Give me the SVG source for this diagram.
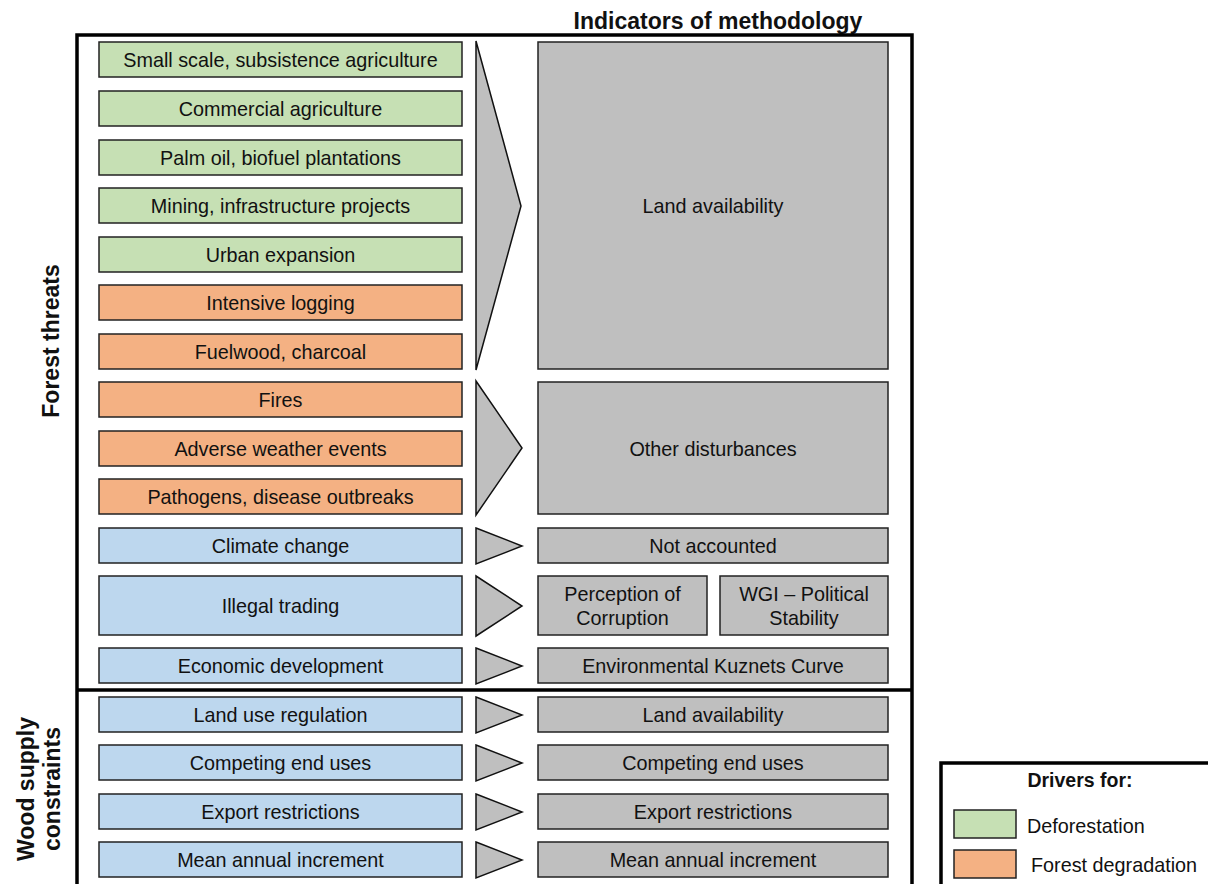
<svg xmlns="http://www.w3.org/2000/svg" width="1208" height="884" viewBox="0 0 1208 884">
<style>
text{font-family:"Liberation Sans",Arial,sans-serif;font-size:19.8px;fill:#111;text-anchor:middle;dominant-baseline:central}
.b{font-weight:bold;font-size:23px}
.g{fill:#c6e0b4;stroke:#222;stroke-width:1.5}
.o{fill:#f4b183;stroke:#222;stroke-width:1.5}
.u{fill:#bdd7ee;stroke:#222;stroke-width:1.5}
.y{fill:#bfbfbf;stroke:#222;stroke-width:1.5}
.t{fill:#bfbfbf;stroke:#111;stroke-width:1.5;stroke-linejoin:miter}
.f{fill:none;stroke:#000;stroke-width:3.5}
</style>
<rect width="1208" height="884" fill="#fff"/>
<text class="b" x="718" y="21">Indicators of methodology</text>
<g id="frame">
<path class="f" d="M77 884V35H912V884"/>
<line class="f" x1="77" y1="690" x2="912" y2="690"/>
</g>
<text class="b" transform="translate(51 341) rotate(-90)">Forest threats</text>
<text class="b" transform="translate(26 789) rotate(-90)">Wood supply</text>
<text class="b" transform="translate(52 789) rotate(-90)">constraints</text>
<g id="d1"><rect class="g" x="99" y="42" width="363" height="35"/><text x="280.5" y="60">Small scale, subsistence agriculture</text></g>
<g id="d2"><rect class="g" x="99" y="91" width="363" height="35"/><text x="280.5" y="109">Commercial agriculture</text></g>
<g id="d3"><rect class="g" x="99" y="140" width="363" height="35"/><text x="280.5" y="158">Palm oil, biofuel plantations</text></g>
<g id="d4"><rect class="g" x="99" y="188" width="363" height="35"/><text x="280.5" y="206">Mining, infrastructure projects</text></g>
<g id="d5"><rect class="g" x="99" y="237" width="363" height="35"/><text x="280.5" y="255">Urban expansion</text></g>
<g id="d6"><rect class="o" x="99" y="285" width="363" height="35"/><text x="280.5" y="303">Intensive logging</text></g>
<g id="d7"><rect class="o" x="99" y="334" width="363" height="35"/><text x="280.5" y="352">Fuelwood, charcoal</text></g>
<g id="d8"><rect class="o" x="99" y="382" width="363" height="35"/><text x="280.5" y="400">Fires</text></g>
<g id="d9"><rect class="o" x="99" y="431" width="363" height="35"/><text x="280.5" y="449">Adverse weather events</text></g>
<g id="d10"><rect class="o" x="99" y="479" width="363" height="35"/><text x="280.5" y="497">Pathogens, disease outbreaks</text></g>
<g id="d11"><rect class="u" x="99" y="528" width="363" height="35"/><text x="280.5" y="546">Climate change</text></g>
<g id="d12"><rect class="u" x="99" y="576" width="363" height="59"/><text x="280.5" y="606">Illegal trading</text></g>
<g id="d13"><rect class="u" x="99" y="648" width="363" height="35"/><text x="280.5" y="666">Economic development</text></g>
<g id="d14"><rect class="u" x="99" y="697" width="363" height="35"/><text x="280.5" y="715">Land use regulation</text></g>
<g id="d15"><rect class="u" x="99" y="745" width="363" height="35"/><text x="280.5" y="763">Competing end uses</text></g>
<g id="d16"><rect class="u" x="99" y="794" width="363" height="35"/><text x="280.5" y="812">Export restrictions</text></g>
<g id="d17"><rect class="u" x="99" y="842" width="363" height="35"/><text x="280.5" y="860">Mean annual increment</text></g>
<g id="connectors">
<polygon class="t" points="476,41 521,206 476,370"/>
<polygon class="t" points="476,381 522,448 476,515"/>
<polygon class="t" points="476,528 522,546 476,564"/>
<polygon class="t" points="476,576 522,606 476,636"/>
<polygon class="t" points="476,648 522,666 476,684"/>
<polygon class="t" points="476,697 522,715 476,733"/>
<polygon class="t" points="476,745 522,763 476,781"/>
<polygon class="t" points="476,794 522,812 476,830"/>
<polygon class="t" points="476,842 522,860 476,878"/>
</g>
<g id="i1"><rect class="y" x="538" y="42" width="350" height="327"/><text x="713" y="206">Land availability</text></g>
<g id="i2"><rect class="y" x="538" y="382" width="350" height="132"/><text x="713" y="449">Other disturbances</text></g>
<g id="i3"><rect class="y" x="538" y="528" width="350" height="35"/><text x="713" y="546">Not accounted</text></g>
<g id="i4"><rect class="y" x="538" y="576" width="169" height="59"/><text x="622.5" y="594">Perception of</text><text x="622.5" y="618">Corruption</text></g>
<g id="i5"><rect class="y" x="720" y="576" width="168" height="59"/><text x="804" y="594">WGI – Political</text><text x="804" y="618">Stability</text></g>
<g id="i6"><rect class="y" x="538" y="648" width="350" height="35"/><text x="713" y="666">Environmental Kuznets Curve</text></g>
<g id="i7"><rect class="y" x="538" y="697" width="350" height="35"/><text x="713" y="715">Land availability</text></g>
<g id="i8"><rect class="y" x="538" y="745" width="350" height="35"/><text x="713" y="763">Competing end uses</text></g>
<g id="i9"><rect class="y" x="538" y="794" width="350" height="35"/><text x="713" y="812">Export restrictions</text></g>
<g id="i10"><rect class="y" x="538" y="842" width="350" height="35"/><text x="713" y="860">Mean annual increment</text></g>
<g id="legend">
<path class="f" d="M941 884V763H1210"/>
<text class="b" x="1080" y="780" style="font-size:19.5px">Drivers for:</text>
<rect class="g" x="954" y="810" width="62" height="28"/>
<text x="1027" y="826" style="text-anchor:start">Deforestation</text>
<rect class="o" x="954" y="850" width="62" height="28"/>
<text x="1031" y="865" style="text-anchor:start">Forest degradation</text>
</g>
</svg>
